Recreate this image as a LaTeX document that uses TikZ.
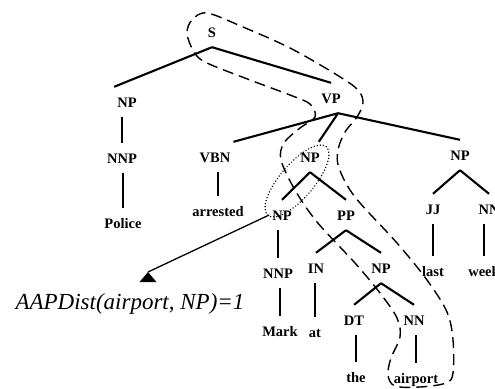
\documentclass[tikz,border=0pt]{standalone}
\usepackage{fontspec}
\setmainfont{Liberation Serif}
\begin{document}
\begin{tikzpicture}[x=1pt,y=-1pt,
		tag/.style={font=\fontsize{14.5}{15}\selectfont\bfseries,text height=10pt,text depth=0pt,inner xsep=3pt,inner ysep=10pt},
		branch/.style={line width=2.1pt},
		loop/.style={line width=1.4pt,dash pattern=on 11pt off 6pt},
		ring/.style={line width=1.5pt,dash pattern=on 0.1pt off 3pt,line cap=round}]
			\useasboundingbox (0,0) rectangle (495,388);
			\node[tag] (S) at (212,32) {S};
			\node[tag] (NPa) at (127,102) {NP};
			\node[tag] (VP) at (331,98) {VP};
			\node[tag] (NNPa) at (122,158) {NNP};
			\node[tag] (Police) at (123,223) {Police};
			\node[tag] (VBN) at (215,157) {VBN};
			\node[tag] (arrested) at (218,211) {arrested};
			\node[tag] (NPb) at (310,157) {NP};
			\node[tag] (NPc) at (460,155) {NP};
			\node[tag] (NPd) at (282,215) {NP};
			\node[tag] (PP) at (346,215) {PP};
			\node[tag] (JJ) at (433,209) {JJ};
			\node[tag] (NNb) at (489,209) {NN};
			\node[tag] (last) at (433,271) {last};
			\node[tag] (week) at (484,271) {week};
			\node[tag] (NNPb) at (278,273) {NNP};
			\node[tag] (IN) at (316,268) {IN};
			\node[tag] (NPe) at (381,268) {NP};
			\node[tag] (Mark) at (280,331) {Mark};
			\node[tag] (at) at (315,332) {at};
			\node[tag] (DT) at (354,320) {DT};
			\node[tag] (NNc) at (414,320) {NN};
			\node[tag] (the) at (356,377) {the};
			\node[tag] (airport) at (416,378) {airport};
			\node[font=\fontsize{23}{24}\selectfont\itshape,inner sep=0pt] (aap) at (130,304) {AAPDist(airport, NP)=1};
			\draw[branch] (S.south)--(NPa.north west) (S.south)--(VP.north);
			\draw[branch] (VP.-65)--(VBN.north east) (VP.-65)--(NPb.60) (VP.-65)--(NPc.north);
			\draw[branch] (NPb.south)--(NPd.north) (NPb.south)--(PP.north);
			\draw[branch] (PP.south)--(IN.north) (PP.south)--(NPe.north);
			\draw[branch] (NPe.south)--(DT.north) (NPe.south)--(NNc.north);
			\draw[branch] (NPc.south)--(JJ.north) (NPc.south)--(NNb.north);
			\foreach \a/\b in {NPa/NNPa,NNPa/Police,VBN/arrested,NPd/NNPb,NNPb/Mark,IN/at,DT/the,NNc/airport,JJ/last,NNb/week}
				\draw[branch] (\b.north |- \a.south)--(\b.north);
			\coordinate (tip) at (148,272);
			\draw[line width=1.3pt] (NPd.west)--(tip);
			\fill (tip)--++(-8.5,10)--++(17,0)--cycle;
			\draw[ring,rotate around={49.5:(297,181)}] (297,181) ellipse [x radius=45pt,y radius=17pt];
			\draw[loop] plot[smooth cycle,tension=0.55] coordinates {(207,13) (243,27) (290,48) (337,75) (358,90) (363,103) (357,117) (345,132) (338,150) (339,168) (355,197) (397,243) (427,280) (447,312) (453,340) (453,373) (446,383) (420,387) (395,386) (388,375) (391,358) (400,337) (397,318) (380,293) (355,263) (317,222) (295,190) (281,160) (284,143) (300,128) (315,117) (310,104) (290,95) (250,80) (205,62) (193,50) (187,33) (192,20)};
		\end{tikzpicture}
\end{document}
